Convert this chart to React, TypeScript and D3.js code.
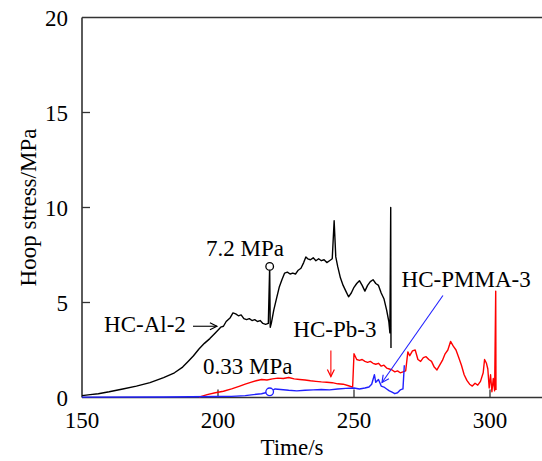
import * as d3 from 'd3'

const W = 542
const H = 461

// time (s) / hoop stress (MPa)
const alTime = [150, 153, 156, 160, 165, 170, 175, 180, 184, 187, 189, 191, 193, 195, 197, 199, 201, 202, 203, 204.5, 205.5, 206.5, 207.5, 208.5, 209.5, 210.5, 211.5, 212.5, 213.5, 214.5, 215.5, 216.5, 217.5, 218.5, 219, 219.2, 219.6, 220.5, 221.5, 222.5, 223.5, 224.5, 225.5, 226.5, 227.5, 228.5, 229.5, 230.5, 231.5, 232.3, 233, 234, 235, 236, 237, 238, 239, 240, 241, 242, 242.7, 243.3, 244, 245, 246, 247, 248, 249, 250, 251, 252, 253, 254, 255, 256, 257, 258, 259, 260, 261, 262, 262.8, 263.2, 263.5, 263.6]
const alStress = [0.1, 0.15, 0.2, 0.3, 0.45, 0.6, 0.78, 1.05, 1.3, 1.6, 1.9, 2.2, 2.55, 2.85, 3.1, 3.4, 3.7, 3.75, 4.0, 4.2, 4.45, 4.4, 4.3, 4.35, 4.15, 4.1, 4.15, 4.05, 4.1, 4.0, 4.05, 3.9, 3.85, 3.9, 6.9, 3.7, 3.9, 4.6, 5.2, 5.8, 6.2, 6.55, 6.6, 6.5, 6.55, 6.5, 6.7, 6.8, 7.1, 7.4, 7.3, 7.25, 7.35, 7.2, 7.3, 7.2, 7.25, 7.1, 7.2, 7.3, 9.3, 7.4, 6.9, 6.3, 5.9, 5.6, 5.3, 5.5, 5.8, 6.0, 6.15, 5.9, 5.6, 5.9, 6.1, 6.2, 6.0, 5.9, 5.5, 5.2, 4.6, 4.0, 3.4, 10.0, 2.6]

const pbTime = [193, 196, 199, 202, 205, 208, 210, 212, 214, 216, 218, 220, 222, 224, 226, 228, 230, 232, 234, 236, 238, 240, 242, 244, 246, 248, 249.5, 250, 251, 252, 253, 254, 255, 256, 257, 258, 259, 260, 261, 262, 263, 264, 265, 266, 267, 268, 269, 269.8, 270.5, 271.5, 272.5, 273.5, 274.5, 275.5, 276.5, 277.5, 278.5, 279.5, 280.5, 281.5, 282.5, 283.5, 284.5, 285.5, 286.5, 287.5, 288.5, 289.5, 290.5, 291.5, 292.5, 293.5, 294.5, 295.5, 296.5, 297.5, 298, 298.7, 299.2, 299.7, 300.2, 300.7, 301.2, 301.7, 302.1, 302.2]
const pbStress = [0.02, 0.15, 0.25, 0.33, 0.45, 0.6, 0.7, 0.8, 0.88, 0.95, 0.92, 0.98, 1.02, 1.0, 1.05, 0.98, 0.95, 0.92, 0.88, 0.85, 0.82, 0.8, 0.78, 0.72, 0.7, 0.62, 0.55, 2.3, 2.0, 1.95, 2.0, 1.9, 1.85, 1.9, 1.8, 1.75, 1.8, 1.65, 1.7, 1.55, 1.5, 1.45, 1.35, 1.4, 1.3, 1.35, 1.4, 2.4, 2.2, 2.45, 2.5, 2.0, 1.9, 2.1, 2.15, 2.0, 1.9, 1.6, 1.45, 1.7, 1.95, 2.3, 2.5, 2.95, 2.7, 2.5, 2.1, 1.7, 1.2, 0.9, 0.7, 0.6, 0.75, 0.65, 0.85, 1.3, 2.0, 1.8, 1.5, 0.5, 1.2, 0.3, 1.0, 0.35, 5.6, 0.4]

const pmmaTime = [150, 180, 200, 205, 210, 213, 216, 219, 221, 223, 226, 229, 232, 235, 238, 241, 244, 247, 250, 252, 254, 255.5, 256.5, 257.5, 258, 259, 260, 261, 262, 263, 264, 265, 266, 267, 268, 268.5]
const pmmaStress = [0.02, 0.03, 0.05, 0.06, 0.1, 0.15, 0.2, 0.3, 0.45, 0.42, 0.38, 0.35, 0.38, 0.4, 0.42, 0.4, 0.45, 0.48, 0.5, 0.45, 0.5, 0.55, 0.7, 1.2, 0.8, 0.95, 0.6, 0.55, 0.45, 0.35, 0.28, 0.2, 0.25, 0.4, 0.45, 1.7]

const xTicks = [150, 200, 250, 300]
const yTicks = [0, 5, 10, 15, 20]

// annotations: [label, time, stress]
const labels: [string, number, number][] = [
  ['7.2 MPa', 195.6, 7.47],
  ['HC-Al-2', 158.1, 3.44],
  ['0.33 MPa', 194.5, 1.26],
  ['HC-Pb-3', 227.7, 3.2],
  ['HC-PMMA-3', 267.5, 5.8]
]
// arrows: [colour, t1, v1, t2, v2]
const arrows: [string, number, number, number, number][] = [
  ['#000', 190.8, 3.75, 199.6, 3.75],
  ['#ff0000', 241.5, 2.47, 241.5, 1.1],
  ['#2020ff', 282.7, 5.37, 260.3, 0.79]
]
// circle markers: [colour, time, stress]
const markers: [string, number, number][] = [
  ['#000', 219, 6.9],
  ['#2020ff', 219, 0.3]
]

const series = [
  { t: alTime, v: alStress, color: '#000' },
  { t: pbTime, v: pbStress, color: '#ff0000' },
  { t: pmmaTime, v: pmmaStress, color: '#2020ff' }
]

const font = "'Liberation Serif', 'Times New Roman', Times, serif"
const txt = { fontFamily: font, fontSize: '23px' }

export default function App() {
  const x = d3.scaleLinear().domain([150, 320]).range([82, 544.4])
  const y = d3.scaleLinear().domain([0, 20]).range([397.5, 17.5])
  const line = d3
    .line<[number, number]>()
    .x((d) => x(d[0]))
    .y((d) => y(d[1]))

  const axisColor = '#333'

  return (
    <svg
      width={W}
      height={H}
      style={{ position: 'absolute', left: 0, top: 0, background: '#fff' }}
    >
      <defs>
        {arrows.map(([c], i) => (
          <marker
            key={i}
            id={`ah${i}`}
            markerWidth="10"
            markerHeight="10"
            refX="8"
            refY="5"
            orient="auto"
            markerUnits="userSpaceOnUse"
          >
            <path d="M1,1.5 L8,5 L1,8.5" fill="none" stroke={c} strokeWidth="1.2" />
          </marker>
        ))}
      </defs>

      {/* frame */}
      <line x1={x(150)} x2={x(150)} y1={y(0)} y2={y(20)} stroke={axisColor} strokeWidth="1.6" />
      <line x1={x(150)} x2={W} y1={y(0)} y2={y(0)} stroke={axisColor} strokeWidth="1.6" />
      <line x1={x(150)} x2={W} y1={y(20)} y2={y(20)} stroke={axisColor} strokeWidth="1.6" />

      {yTicks.map((t) => (
        <g key={t}>
          {t > 0 && t < 20 && (
            <line x1={x(150)} x2={x(150) + 8} y1={y(t)} y2={y(t)} stroke={axisColor} strokeWidth="1.3" />
          )}
          <text x={68} y={y(t)} dy="0.35em" textAnchor="end" style={txt}>
            {t}
          </text>
        </g>
      ))}
      {xTicks.map((t) => (
        <g key={t}>
          {t > 150 && (
            <line x1={x(t)} x2={x(t)} y1={y(0)} y2={y(0) - 8} stroke={axisColor} strokeWidth="1.3" />
          )}
          <text x={x(t)} y={428} textAnchor="middle" style={txt}>
            {t}
          </text>
        </g>
      ))}

      <text x={292} y={455} textAnchor="middle" style={txt}>
        Time/s
      </text>
      <text
        transform={`translate(36, ${y(10)}) rotate(-90)`}
        textAnchor="middle"
        style={txt}
      >
        Hoop stress/MPa
      </text>

      {series.map((s, i) => (
        <path
          key={i}
          d={line(s.t.map((t, j) => [t, s.v[j]] as [number, number])) ?? ''}
          fill="none"
          stroke={s.color}
          strokeWidth="1.4"
          strokeLinejoin="round"
        />
      ))}

      {markers.map(([c, t, v], i) => (
        <circle key={i} cx={x(t)} cy={y(v)} r="3.8" fill="#fff" stroke={c} strokeWidth="1.3" />
      ))}

      {arrows.map(([c, t1, v1, t2, v2], i) => (
        <line
          key={i}
          x1={x(t1)}
          y1={y(v1)}
          x2={x(t2)}
          y2={y(v2)}
          stroke={c}
          strokeWidth="1.1"
          markerEnd={`url(#ah${i})`}
        />
      ))}

      {labels.map(([s, t, v]) => (
        <text key={s} x={x(t)} y={y(v)} style={txt}>
          {s}
        </text>
      ))}
    </svg>
  )
}
